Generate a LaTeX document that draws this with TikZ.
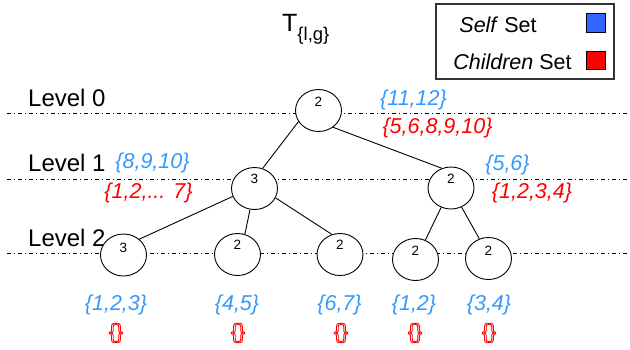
\documentclass[tikz,border=0pt]{standalone}
\usepackage{fontspec}
\setmainfont{Liberation Sans}
\usetikzlibrary{shapes.geometric}
\definecolor{setblue}{RGB}{51,153,255}
\definecolor{legblue}{RGB}{51,102,255}
\definecolor{setred}{RGB}{255,0,0}
\newcommand\outlinetext[1]{\special{pdf:literal direct 1 Tr 0.9 w}#1\special{pdf:literal direct 0 Tr}}
\begin{document}
\begin{tikzpicture}[x=1pt,y=-1pt,
  treenode/.style={ellipse,draw,line width=0.9pt,fill=white,minimum width=46pt,minimum height=42pt,inner sep=0pt},
  edge/.style={line width=0.9pt},
  levelline/.style={line width=0.8pt,dash pattern=on 4pt off 3pt on 1pt off 3pt},
  leveltxt/.style={inner sep=0pt,anchor=west,font=\fontsize{24}{28}\selectfont},
  selfset/.style={inner sep=0pt,text=setblue,font=\fontsize{21.5}{25}\selectfont\itshape},
  childset/.style={inner sep=0pt,text=setred,font=\fontsize{21.5}{25}\selectfont\itshape},
  emptyset/.style={inner sep=0pt,text=setred,font=\fontsize{21}{25}\selectfont},
  legtxt/.style={inner sep=0pt,font=\fontsize{21.5}{25}\selectfont},
  num/.style={font=\fontsize{13.5}{16}\selectfont,inner sep=0pt}
]
\useasboundingbox (0,0) rectangle (630,349);
% level lines
\draw[levelline] (7,113) -- (627,113);
\draw[levelline] (7,179) -- (627,179);
\draw[levelline] (7,253) -- (627,253);
\node[leveltxt] (lv0) at (28,98) {Level 0};
\node[leveltxt] (lv1) at (28,163) {Level 1};
\node[leveltxt] (lv2) at (28,238) {Level 2};
% title
\node[inner sep=0pt,anchor=base west,font=\fontsize{25}{30}\selectfont] (title) at (282,31)
  {T\raisebox{-9pt}{\fontsize{18.5}{22}\selectfont\{l,g\}}};
% legend
\draw[line width=1.1pt,draw=black!80] (436,4) rectangle (614,79);
\node[legtxt] (lself) at (498,25) {\textit{Self} Set};
\node[legtxt] (lchild) at (512.5,62) {\textit{Children} Set};
\draw[line width=0.9pt,fill=legblue] (586,13) rectangle (605,32);
\draw[line width=0.9pt,fill=setred] (586,51) rectangle (605,69);
% tree nodes
\node[treenode,label={[num,yshift=9pt]center:2}] (root) at (318.5,110.5) {};
\node[treenode,label={[num,yshift=9.5pt]center:3}] (l1a) at (254.5,188.5) {};
\node[treenode,label={[num,yshift=9pt]center:2}] (l1b) at (451,188) {};
\node[treenode,label={[num,yshift=7pt]center:3}] (l2a) at (123.5,255) {};
\node[treenode,label={[num,yshift=9.5pt]center:2}] (l2b) at (237.5,254.5) {};
\node[treenode,label={[num,yshift=9.5pt]center:2}] (l2c) at (340,254.5) {};
\node[treenode,label={[num,yshift=8.5pt]center:2}] (l2d) at (415.5,259.5) {};
\node[treenode,label={[num,yshift=8pt]center:2}] (l2e) at (488.5,258.5) {};
% edges
\draw[edge] (root.209) -- (l1a.68);
\draw[edge] (root.-49) -- (l1b.115);
\draw[edge] (l1a.200) -- (l2a.45);
\draw[edge] (l1a.258) -- (l2b.70);
\draw[edge] (l1a.336) -- (l2c.112);
\draw[edge] (l1b.243) -- (l2d.63);
\draw[edge] (l1b.299) -- (l2e.115);
% sets
\node[selfset] (s0) at (413.5,100) {\{11,12\}};
\node[childset] (c0) at (437.5,128) {\{5,6,8,9,10\}};
\node[selfset] (s1a) at (152.5,163) {\{8,9,10\}};
\node[childset] (c1a) at (148.5,193) {\{1,2,... 7\}};
\node[selfset] (s1b) at (507.5,165) {\{5,6\}};
\node[childset] (c1b) at (532,193) {\{1,2,3,4\}};
\node[selfset] (s2a) at (116,305) {\{1,2,3\}};
\node[selfset] (s2b) at (237,305) {\{4,5\}};
\node[selfset] (s2c) at (339.5,305) {\{6,7\}};
\node[selfset] (s2d) at (414,305) {\{1,2\}};
\node[selfset] (s2e) at (489,305) {\{3,4\}};
\node[emptyset] (c2a) at (116,333) {\outlinetext{\{\}}};
\node[emptyset] (c2b) at (238,333) {\outlinetext{\{\}}};
\node[emptyset] (c2c) at (341,333) {\outlinetext{\{\}}};
\node[emptyset] (c2d) at (415,333) {\outlinetext{\{\}}};
\node[emptyset] (c2e) at (489,333) {\outlinetext{\{\}}};
\end{tikzpicture}
\end{document}
